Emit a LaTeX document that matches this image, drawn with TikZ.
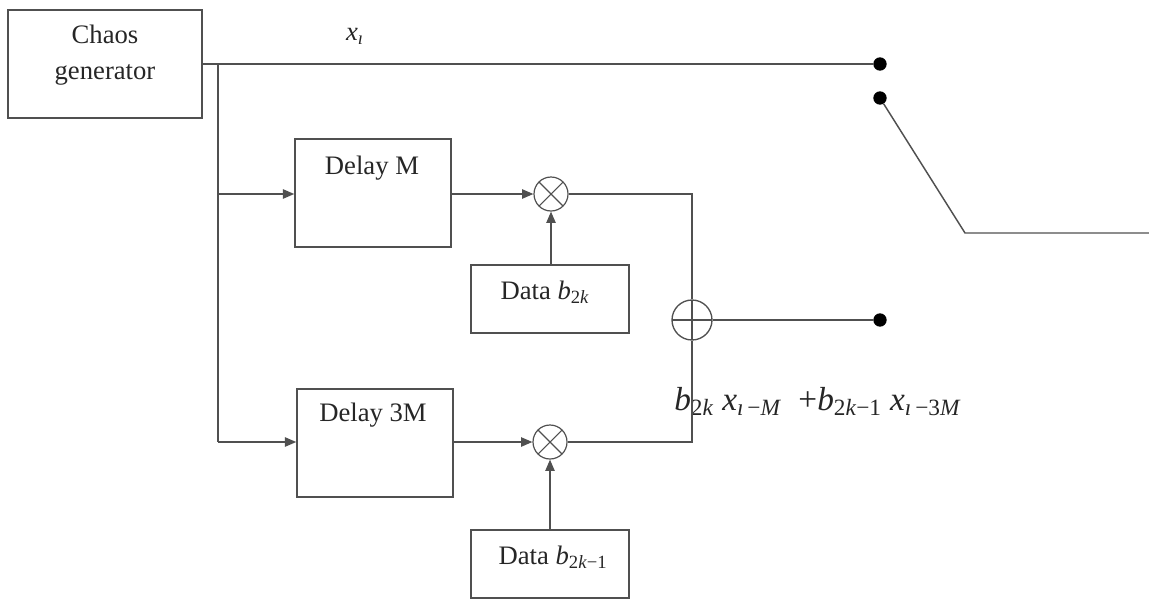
\documentclass[tikz,border=0pt]{standalone}
\usepackage{fontspec}
\setmainfont{Liberation Serif}
\usetikzlibrary{arrows.meta}
\definecolor{wire}{HTML}{505050}
\newcommand{\sub}[1]{\textsubscript{#1}}
\tikzset{
  wireln/.style={draw=wire, line width=1.1pt},
  arr/.style={wireln, -{Triangle[length=8.5pt,width=7pt]}},
  blk/.style={draw=wire, line width=1.1pt, rectangle, inner sep=0pt},
  txt/.style={font=\fontsize{20}{23}\selectfont, text=black!85, inner sep=0pt},
  mult/.style={draw=wire, line width=0.9pt, circle, minimum size=25.5pt, inner sep=0pt,
    path picture={\draw[wire, line width=0.8pt]
      (path picture bounding box.north west)--(path picture bounding box.south east)
      (path picture bounding box.north east)--(path picture bounding box.south west);}},
  addr/.style={draw=wire, line width=1pt, circle, minimum size=30pt, inner sep=0pt,
    path picture={\draw[wire, line width=1pt]
      (path picture bounding box.north)--(path picture bounding box.south)
      (path picture bounding box.east)--(path picture bounding box.west);}},
  dot/.style={circle, fill=black, minimum size=10pt, inner sep=0pt},
}
\begin{document}
\begin{tikzpicture}[x=0.75pt, y=-0.75pt]
\useasboundingbox (0,0) rectangle (1149,600);
% blocks
\node[blk, minimum width=145.5pt, minimum height=81pt] (chaos) at (105,64) {};
\node[txt, align=center] (chaost) at (105,55) {Chaos\\[4pt]generator};
\node[blk, minimum width=117pt, minimum height=81pt] (dm) at (373,193) {};
\node[txt] (dmt) at (372,168) {Delay M};
\node[blk, minimum width=117pt, minimum height=81pt] (d3m) at (375,443) {};
\node[txt] (d3mt) at (373,415) {Delay 3M};
\node[blk, minimum width=118.5pt, minimum height=51pt] (db1) at (550,299) {};
\node[txt] (db1t) at (545,292) {Data \textit{b}\sub{2\textit{k}}};
\node[blk, minimum width=118.5pt, minimum height=51pt] (db2) at (550,564) {};
\node[txt] (db2t) at (553,557) {Data \textit{b}\sub{2\textit{k}−1}};
% operators
\node[mult] (m1) at (551,194) {};
\node[mult] (m2) at (550,442) {};
\node[addr] (add) at (692,320) {};
% dots
\node[dot] (p1) at (880,64) {};
\node[dot] (p2) at (880,98) {};
\node[dot] (p3) at (880,320) {};
\coordinate (sw) at (965,233);
\coordinate (swend) at (1149,233);
\coordinate (j0) at (218,64);
\coordinate (j1) at (218,194);
\coordinate (j2) at (218,442);
\coordinate (c1) at (692,194);
\coordinate (c2) at (692,442);
% labels
\node[txt] (xi) at (355,36) {\textit{x}\sub{\textit{ı}}};
\node[txt, font=\fontsize{25}{28}\selectfont, anchor=west] (formula) at (674,402) {\textit{b}\sub{2\textit{k}}\ \textit{x}\sub{\textit{ı}\,−\textit{M}}\ \ +\textit{b}\sub{2\textit{k}−1}\ \textit{x}\sub{\textit{ı}\,−3\textit{M}}};
% wires
\draw[wireln] (chaos.east |- p1) -- (p1);
\draw[wireln] (j0) -- (j2);
\draw[arr] (j1) -- (dm.west |- j1);
\draw[arr] (j2) -- (d3m.west |- j2);
\draw[arr] (dm.east |- m1) -- (m1.west);
\draw[arr] (d3m.east |- m2) -- (m2.west);
\draw[arr] (db1.north -| m1) -- (m1.south);
\draw[arr] (db2.north -| m2) -- (m2.south);
\draw[wireln] (m1.east) -- (c1) -- (add.north);
\draw[wireln] (m2.east) -- (c2) -- (add.south);
\draw[wireln] (add.east) -- (p3);
\draw[wireln] (p2) -- (sw) -- (swend);
\end{tikzpicture}
\end{document}
